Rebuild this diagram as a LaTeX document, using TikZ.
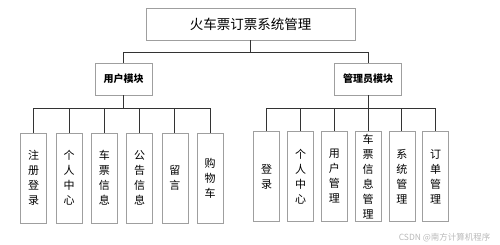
\documentclass[tikz,border=0pt]{standalone}
\usepackage{fontspec}
\setmainfont{Noto Sans CJK SC}
\usepackage{tikz}

\begin{document}
\begin{tikzpicture}[
    x = 1pt, y = -1pt,
    every node/.style = {font=\fontsize{10}{12}\selectfont},
    % Named styles
    box/.style     = {draw=gray!75, line width=0.8pt, fill=white, inner sep=0pt},
    topbox/.style  = {box, minimum width=209pt, minimum height=32pt,
                      font=\fontsize{13.5}{15}\selectfont},
    modbox/.style  = {box, minimum height=32pt, font=\fontsize{10}{12}\selectfont\bfseries},
    leaf/.style    = {box, minimum width=26pt, minimum height=90pt, align=center,
                      font=\fontsize{11}{15}\selectfont},
    link/.style    = {line width=1pt, draw=black!80},
    wmark/.style   = {font=\fontsize{8.5}{10}\selectfont, text=gray!55},
]

% ── Canvas ────────────────────────────────────────────────────────────────────
\useasboundingbox (0,0) rectangle (500,245);

% ── Dimensions (1 unit = 1 px of the reference) ──────────────────────────────
\def\yLeaf{178}    % leaf centre line
\def\xL{33.7}      % first user leaf
\def\dL{35.3}      % user leaf spacing
\def\xR{266.7}     % first admin leaf
\def\dR{33.8}      % admin leaf spacing

% ── Root ──────────────────────────────────────────────────────────────────────
\node[topbox] (sys) at (250.5,24) {火车票订票系统管理};

% ── Modules ───────────────────────────────────────────────────────────────────
\node[modbox, minimum width=57pt] (user)  at (123.5,79) {用户模块};
\node[modbox, minimum width=67pt] (admin) at (368,79)   {管理员模块};

\draw[link] (sys.south) -- ++(0,11.7) -| (user.north);
\draw[link] (sys.south) -- ++(0,11.7) -| (admin.north);

% ── User leaves ───────────────────────────────────────────────────────────────
\foreach \i/\txt in {1/{注\\册\\登\\录}, 2/{个\\人\\中\\心}, 3/{车\\票\\信\\息},
                     4/{公\\告\\信\\息}, 5/{留\\言}, 6/{购\\物\\车}} {
    \pgfmathsetmacro{\xc}{\xL + (\i-1)*\dL}
    \node[leaf] (u\i) at (\xc,\yLeaf) {\txt};
    \draw[link] (user.south) -- ++(0,13) -| (u\i.north);
}

% ── Admin leaves ──────────────────────────────────────────────────────────────
\foreach \i/\txt in {1/{登\\录}, 2/{个\\人\\中\\心}, 3/{用\\户\\管\\理},
                     4/{车\\票\\信\\息\\管\\理}, 5/{系\\统\\管\\理}, 6/{订\\单\\管\\理}} {
    \pgfmathsetmacro{\xc}{\xR + (\i-1)*\dR}
    \node[leaf] (a\i) at (\xc,\yLeaf-1.5) {\txt};
    \draw[link] (admin.south) -- ++(0,13) -| (a\i.north);
}

% ── Watermark ─────────────────────────────────────────────────────────────────
\node[wmark, anchor=east] (wm) at (494,238) {CSDN @南方计算机程序};

\end{tikzpicture}
\end{document}
